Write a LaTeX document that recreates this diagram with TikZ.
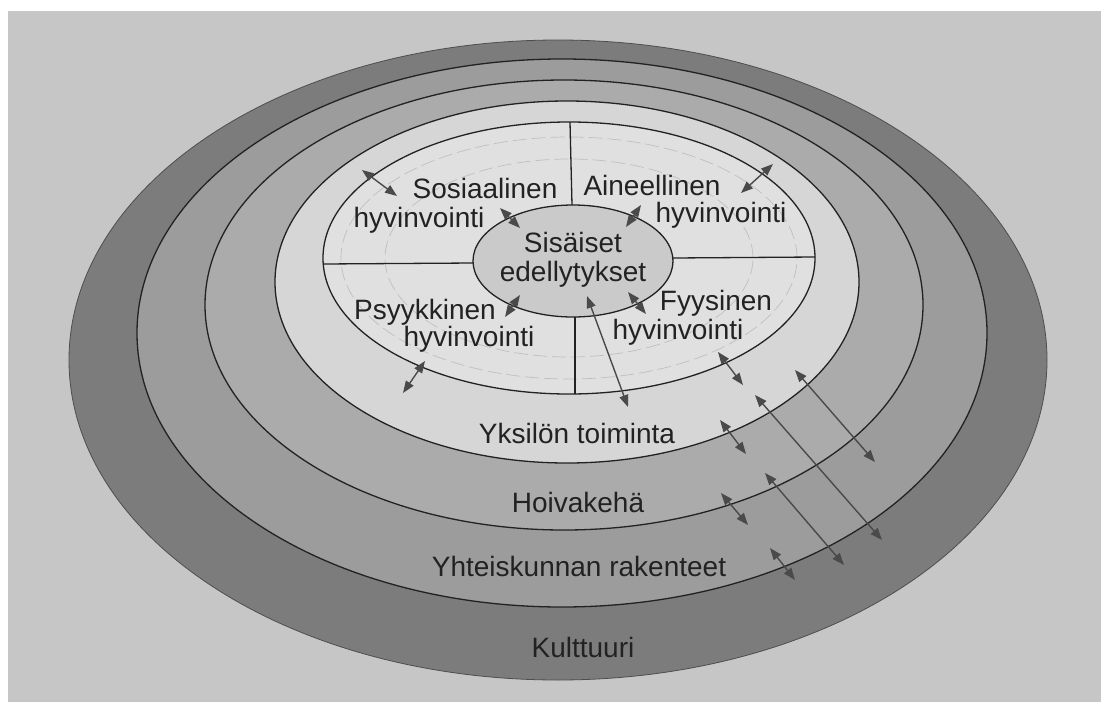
\documentclass[tikz,border=0pt]{standalone}
\usepackage{fontspec}
\setmainfont{Liberation Sans}
\usetikzlibrary{arrows.meta}
\definecolor{bgc}{HTML}{C6C6C6}
\definecolor{ringA}{HTML}{7C7C7C}
\definecolor{ringB}{HTML}{9C9C9C}
\definecolor{ringC}{HTML}{ABABAB}
\definecolor{ringD}{HTML}{D6D6D6}
\definecolor{ringE}{HTML}{E0E0E0}
\definecolor{coreC}{HTML}{CACACA}
\definecolor{ink}{HTML}{222222}
\definecolor{arr}{HTML}{4A4A4A}
\begin{document}
\begin{tikzpicture}[x=1pt,y=-1pt,
  ring/.style={draw=ink, line width=1.3pt},
  lbl/.style={font=\fontsize{28}{30}\selectfont, text=ink, inner sep=0pt, anchor=base},
  dbl/.style={arr, line width=1.4pt, {Triangle[length=12pt,width=9pt]}-{Triangle[length=12pt,width=9pt]}},
  faint/.style={gray!50, line width=0.7pt, dash pattern=on 14pt off 5pt},
  divider/.style={draw=ink, line width=1.3pt}]
\useasboundingbox (0,0) rectangle (1101,702);
\fill[white] (0,0) rectangle (1101,702);
\fill[bgc] (8,11) rectangle (1101,702);
% rings
\path[ring, fill=ringA, draw=ink!80, line width=0.8pt] (558,360) ellipse [x radius=489pt, y radius=320pt];
\path[ring, fill=ringB] (562,333) ellipse [x radius=425pt, y radius=274pt];
\path[ring, fill=ringC] (564,305) ellipse [x radius=359pt, y radius=225pt];
\path[ring, fill=ringD] (567,282) ellipse [x radius=292pt, y radius=181pt];
\path[ring, fill=ringE] (569,258) ellipse [x radius=246pt, y radius=136pt];
% faint inner arcs
\draw[faint] (569,258) ellipse [x radius=228pt, y radius=121pt];
\draw[faint] (569,258) ellipse [x radius=184pt, y radius=99pt];
% dividers
\coordinate (qt) at (570,122);
\coordinate (qb) at (575,394);
\coordinate (ql) at (323,264);
\coordinate (qr) at (815,257);
\path[ring, fill=coreC] (573,261) ellipse [x radius=100pt, y radius=56pt];
\coordinate (ct) at (572,205);
\coordinate (cb) at (575,317);
\coordinate (cl) at (473,263);
\coordinate (cr) at (673,258);
\draw[divider] (qt) -- (ct);
\draw[divider] (cb) -- (qb);
\draw[divider] (ql) -- (cl);
\draw[divider] (cr) -- (qr);
% labels
\node[lbl] (sos1) at (485,198) {Sosiaalinen};
\node[lbl] (sos2) at (419,227) {hyvinvointi};
\node[lbl] (ain1) at (652,195) {Aineellinen};
\node[lbl] (ain2) at (721,222) {hyvinvointi};
\node[lbl] (sis1) at (573,252) {Sisäiset};
\node[lbl] (sis2) at (573,281) {edellytykset};
\node[lbl] (psy1) at (425,319) {Psyykkinen};
\node[lbl] (psy2) at (469,346) {hyvinvointi};
\node[lbl] (fyy1) at (716,310) {Fyysinen};
\node[lbl] (fyy2) at (678,339) {hyvinvointi};
\node[lbl] (yks) at (577,443) {Yksilön toiminta};
\node[lbl] (hoi) at (578,512) {Hoivakehä};
\node[lbl] (yht) at (579,576) {Yhteiskunnan rakenteet};
\node[lbl] (kul) at (583,657) {Kulttuuri};
% arrow end points
\coordinate (a1s) at (362,170); \coordinate (a1e) at (397,196);
\coordinate (a2s) at (500,208); \coordinate (a2e) at (520,228);
\coordinate (a3s) at (641,205); \coordinate (a3e) at (626,227);
\coordinate (a4s) at (773,164); \coordinate (a4e) at (741,193);
\coordinate (a5s) at (520,295); \coordinate (a5e) at (505,317);
\coordinate (a6s) at (628,292); \coordinate (a6e) at (646,314);
\coordinate (a7s) at (587,296); \coordinate (a7e) at (628,407);
\coordinate (a8s) at (425,361); \coordinate (a8e) at (403,393);
\coordinate (b1s) at (718,352); \coordinate (b1e) at (743,385);
\coordinate (b2s) at (795,370); \coordinate (b2e) at (875,462);
\coordinate (b3s) at (755,395); \coordinate (b3e) at (882,540);
\coordinate (b4s) at (720,420); \coordinate (b4e) at (746,454);
\coordinate (b5s) at (765,473); \coordinate (b5e) at (844,565);
\coordinate (b6s) at (721,493); \coordinate (b6e) at (748,525);
\coordinate (b7s) at (770,548); \coordinate (b7e) at (795,580);
\foreach \p in {a1,a2,a3,a4,a5,a6,a7,a8,b1,b2,b3,b4,b5,b6,b7}
  \draw[dbl] (\p s) -- (\p e);
\end{tikzpicture}
\end{document}
